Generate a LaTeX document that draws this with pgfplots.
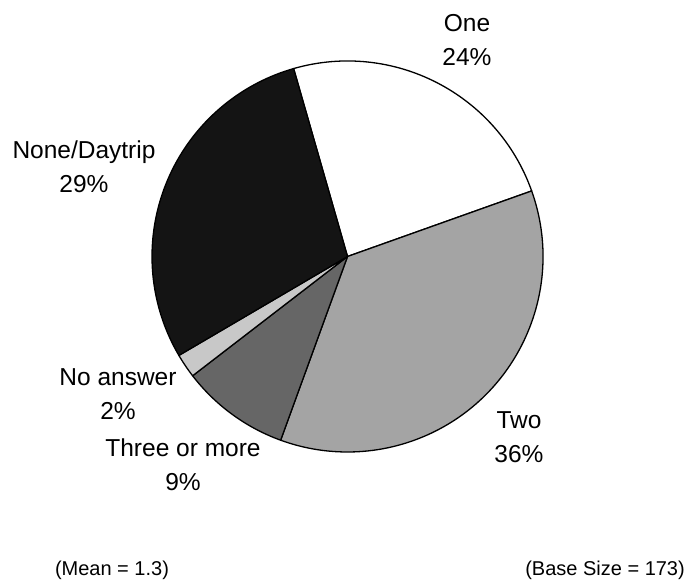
\documentclass[border=0pt]{standalone}
\usepackage{pgfplots}
\pgfplotsset{compat=1.18}
\usepackage{fontspec}
\setmainfont{Liberation Sans}

% shares of nights stayed (per cent)
\def\vOne{24}
\def\vTwo{36}
\def\vThree{9}
\def\vNA{2}
\def\vNone{29}

\definecolor{cNone}{HTML}{141414}
\definecolor{cTwo}{HTML}{A4A4A4}
\definecolor{cThree}{HTML}{666666}
\definecolor{cNA}{HTML}{C8C8C8}

\begin{document}
\begin{tikzpicture}
% wedge boundaries, clockwise from the start angle
\pgfmathsetmacro\aA{106}
\pgfmathsetmacro\aB{\aA-3.6*\vOne}
\pgfmathsetmacro\aC{\aB-3.6*\vTwo}
\pgfmathsetmacro\aD{\aC-3.6*\vThree}
\pgfmathsetmacro\aE{\aD-3.6*\vNA}
\pgfmathsetmacro\aF{\aE-3.6*\vNone}
\def\R{195.5pt}
\begin{axis}[
  x=1pt, y=1pt, disabledatascaling,
  xmin=0, xmax=687, ymin=0, ymax=581,
  hide axis, clip=false,
]
\path (axis cs:0,0) rectangle (axis cs:687,581);
\tikzset{wedge/.style={draw=black, line width=1.3pt, line join=round}}
\filldraw[wedge, fill=white]  (axis cs:347.5,324.5) -- ++(\aA:\R) arc[start angle=\aA, end angle=\aB, radius=\R] -- cycle;
\filldraw[wedge, fill=cTwo]   (axis cs:347.5,324.5) -- ++(\aB:\R) arc[start angle=\aB, end angle=\aC, radius=\R] -- cycle;
\filldraw[wedge, fill=cThree] (axis cs:347.5,324.5) -- ++(\aC:\R) arc[start angle=\aC, end angle=\aD, radius=\R] -- cycle;
\filldraw[wedge, fill=cNA]    (axis cs:347.5,324.5) -- ++(\aD:\R) arc[start angle=\aD, end angle=\aE, radius=\R] -- cycle;
\filldraw[wedge, fill=cNone]  (axis cs:347.5,324.5) -- ++(\aE:\R) arc[start angle=\aE, end angle=\aF, radius=\R] -- cycle;

\tikzset{lab/.style={align=center, inner sep=0pt, font=\fontsize{24.5}{34}\selectfont}}
\node[lab] at (axis cs:467,541) {One\\24\%};
\node[lab] at (axis cs:519,143.5) {Two\\36\%};
\node[lab] at (axis cs:183,116) {Three or more\\9\%};
\node[lab] at (axis cs:118,186.5) {No answer\\2\%};
\node[lab] at (axis cs:84,414) {None/Daytrip\\29\%};

\tikzset{foot/.style={inner sep=0pt, font=\fontsize{20}{24}\selectfont}}
\node[foot] at (axis cs:112,11) {(Mean = 1.3)};
\node[foot, anchor=east] at (axis cs:685,11) {(Base Size = 173)};
\end{axis}
\end{tikzpicture}
\end{document}
